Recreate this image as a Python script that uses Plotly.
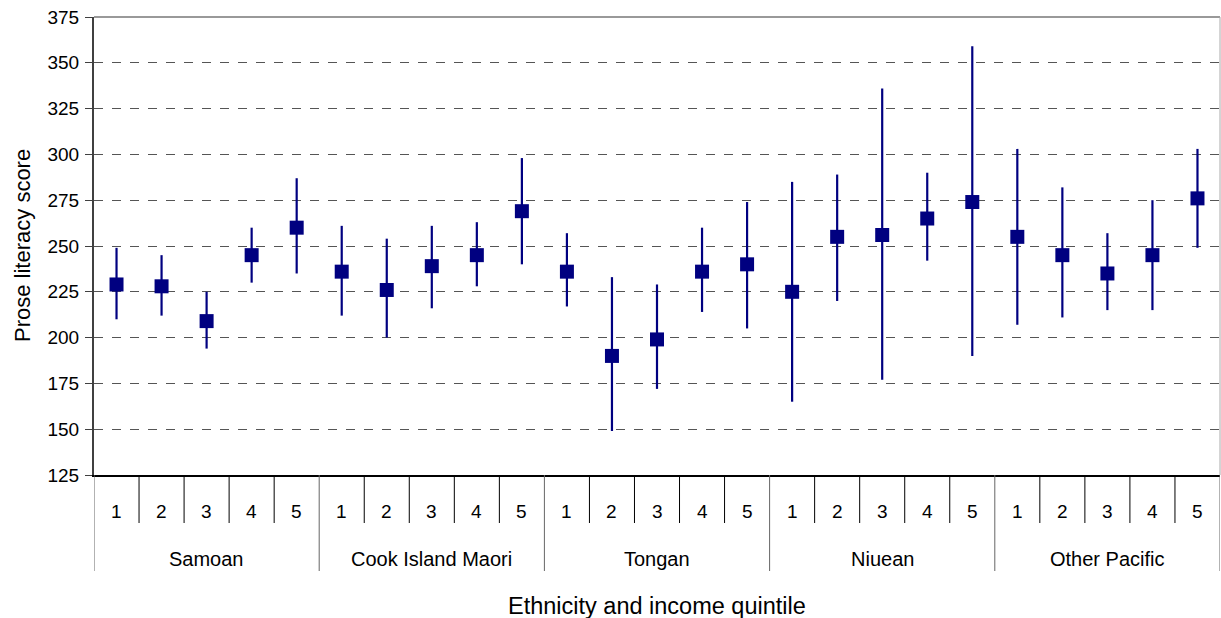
import plotly.graph_objects as go

groups = ["Samoan", "Cook Island Maori", "Tongan", "Niuean", "Other Pacific"]
quintiles = ["1", "2", "3", "4", "5"]

# mean score and the ends of each interval, 5 quintiles per group
score = [229, 228, 209, 245, 260,
         236, 226, 239, 245, 269,
         236, 190, 199, 236, 240,
         225, 255, 256, 265, 274,
         255, 245, 235, 245, 276]
upper = [249, 245, 225, 260, 287,
         261, 254, 261, 263, 298,
         257, 233, 229, 260, 274,
         285, 289, 336, 290, 359,
         303, 282, 257, 275, 303]
lower = [210, 212, 194, 230, 235,
         212, 200, 216, 228, 240,
         217, 149, 172, 214, 205,
         165, 220, 177, 242, 190,
         207, 211, 215, 215, 249]

n_q = len(quintiles)
n = len(score)
xpos = [i + 0.5 for i in range(n)]  # centre of each category slot

err_plus = [u - s for u, s in zip(upper, score)]
err_minus = [s - l for s, l in zip(score, lower)]

font_name = "Liberation Sans, Arial, sans-serif"
plot_h = 458  # pixel height of plot area, used to place the category table below it


def below(px):
    return -px / plot_h


fig = go.Figure()
fig.add_trace(go.Scatter(
    x=xpos,
    y=score,
    mode="markers",
    marker=dict(symbol="square", size=14, color="#000080"),
    error_y=dict(type="data", symmetric=False, array=err_plus, arrayminus=err_minus,
                 color="#000080", thickness=2.2, width=0),
    showlegend=False,
    hoverinfo="skip",
))

shapes = []
annotations = []
# short dividers between quintiles, long ones between ethnic groups
for k in range(n + 1):
    if k % n_q == 0:
        shapes.append(dict(type="line", xref="x", yref="paper", x0=k, x1=k,
                           y0=0, y1=below(96), line=dict(color="#666666", width=1)))
    else:
        shapes.append(dict(type="line", xref="x", yref="paper", x0=k, x1=k,
                           y0=0, y1=below(48), line=dict(color="black", width=1)))
for i in range(n):
    annotations.append(dict(x=xpos[i], y=below(36), xref="x", yref="paper",
                            text=quintiles[i % n_q], showarrow=False,
                            font=dict(size=19), yanchor="middle"))
for g, name in enumerate(groups):
    annotations.append(dict(x=g * n_q + n_q / 2, y=below(84), xref="x", yref="paper",
                            text=name, showarrow=False, font=dict(size=20),
                            yanchor="middle"))

annotations.append(dict(x=0.5, y=below(131), xref="paper", yref="paper",
                        text="Ethnicity and income quintile", showarrow=False,
                        font=dict(size=23.5), yanchor="middle"))
annotations.append(dict(x=-72 / 1126, y=0.5, xref="paper", yref="paper",
                        text="Prose literacy score", showarrow=False, textangle=-90,
                        font=dict(size=22), xanchor="center", yanchor="middle"))

# frame: grey top and right edges
shapes.append(dict(type="line", xref="paper", yref="paper", x0=0, x1=1, y0=1, y1=1,
                   line=dict(color="#999999", width=2)))
shapes.append(dict(type="line", xref="paper", yref="paper", x0=1, x1=1, y0=0, y1=1,
                   line=dict(color="#aaaaaa", width=1)))

fig.update_layout(
    width=1221, height=618,
    margin=dict(l=94, r=1, t=17, b=143),
    paper_bgcolor="white", plot_bgcolor="white",
    font=dict(family=font_name, size=19, color="black"),
    xaxis=dict(
        range=[0, n], showticklabels=False, ticks="",
        showline=True, linecolor="black", linewidth=1.5,
        showgrid=False, zeroline=False,
    ),
    yaxis=dict(
        range=[125, 375], dtick=25, tick0=125,
        showline=True, linecolor="#404040", linewidth=2,
        ticks="outside", ticklen=7, tickcolor="#404040",
        ticklabelstandoff=2,
        showgrid=True, gridcolor="#555555", gridwidth=1, griddash="9px,9px",
        zeroline=False,
        tickfont=dict(size=19),
    ),
    shapes=shapes,
    annotations=annotations,
)

# the page's default body margin would shift the chart by 8px
fig.write_html("out.html", config={"displayModeBar": False},
               post_script="document.body.style.margin='0';")
